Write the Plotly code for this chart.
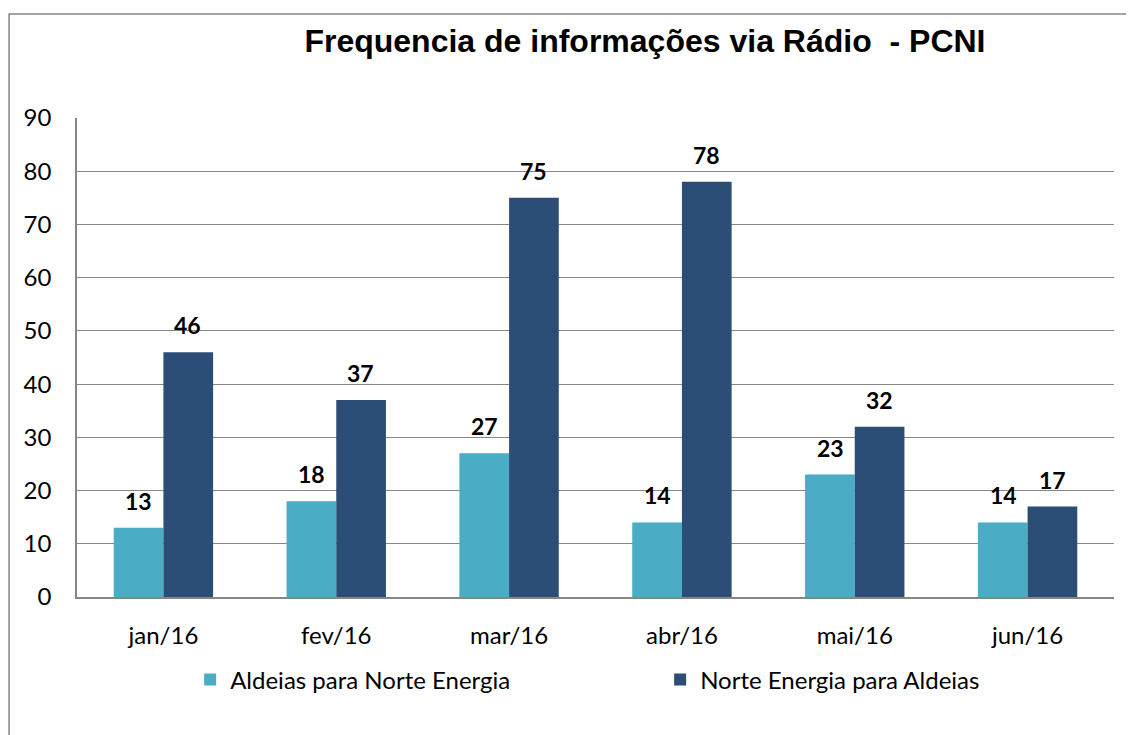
import plotly.graph_objects as go

categories = ["jan/16", "fev/16", "mar/16", "abr/16", "mai/16", "jun/16"]
aldeias_para_ne = [13, 18, 27, 14, 23, 14]
ne_para_aldeias = [46, 37, 75, 78, 32, 17]
series_names = ["Aldeias para Norte Energia", "Norte Energia para Aldeias"]
y_ticks = [0, 10, 20, 30, 40, 50, 60, 70, 80, 90]

c_light = "#4BACC6"
c_dark = "#2C4D75"
FONT = "Lato, Open Sans, sans-serif"
tick_font = dict(family=FONT, size=24, color="#000000")

fig = go.Figure()
fig.add_trace(go.Bar(x=categories, y=aldeias_para_ne, name=series_names[0],
                     marker=dict(color=c_light, line=dict(width=0))))
fig.add_trace(go.Bar(x=categories, y=ne_para_aldeias, name=series_names[1],
                     marker=dict(color=c_dark, line=dict(width=0))))

annotations = []
for vals, shift in ((aldeias_para_ne, -24.5), (ne_para_aldeias, 24.5)):
    for c, v in zip(categories, vals):
        annotations.append(dict(x=c, y=v, xref="x", yref="y", text=str(v),
                                showarrow=False, xshift=shift, yshift=27,
                                font=dict(family=FONT, size=23,
                                          color="#000000", weight="bold")))

fig.update_layout(
    width=1134, height=735,
    margin=dict(l=69, r=27, t=110, b=146),
    paper_bgcolor="white", plot_bgcolor="white",
    barmode="group", bargap=0.425, bargroupgap=0,
    title=dict(text="Frequencia de informações via Rádio &nbsp;- PCNI",
               x=0.5617, xanchor="center", y=0.955, yanchor="middle",
               font=dict(family="Liberation Sans, Arial, sans-serif", size=32,
                         color="#000000", weight="bold")),
    xaxis=dict(showgrid=False, showline=True, linecolor="#868686", linewidth=1.5,
               ticks="", tickfont=tick_font, ticklabelstandoff=16),
    yaxis=dict(range=[0, 90], tickvals=y_ticks, showgrid=True, gridcolor="#868686",
               gridwidth=1, showline=True, linecolor="#868686", linewidth=1.5,
               ticks="", tickfont=tick_font, ticklabelstandoff=19, zeroline=False),
    legend=dict(orientation="h", x=0.109, xanchor="left", y=-0.173, yanchor="middle",
                entrywidth=425, entrywidthmode="pixels",
                font=dict(family=FONT, size=24, color="#000000"),
                traceorder="normal"),
    annotations=annotations,
    shapes=[dict(type="rect", xref="paper", yref="paper",
                 x0=-0.0655, x1=1.2, y0=-0.6, y1=1.2171,
                 line=dict(color="#868686", width=1.5), fillcolor="rgba(0,0,0,0)",
                 layer="below")],
    showlegend=True,
)

fig.write_html("out.html")
